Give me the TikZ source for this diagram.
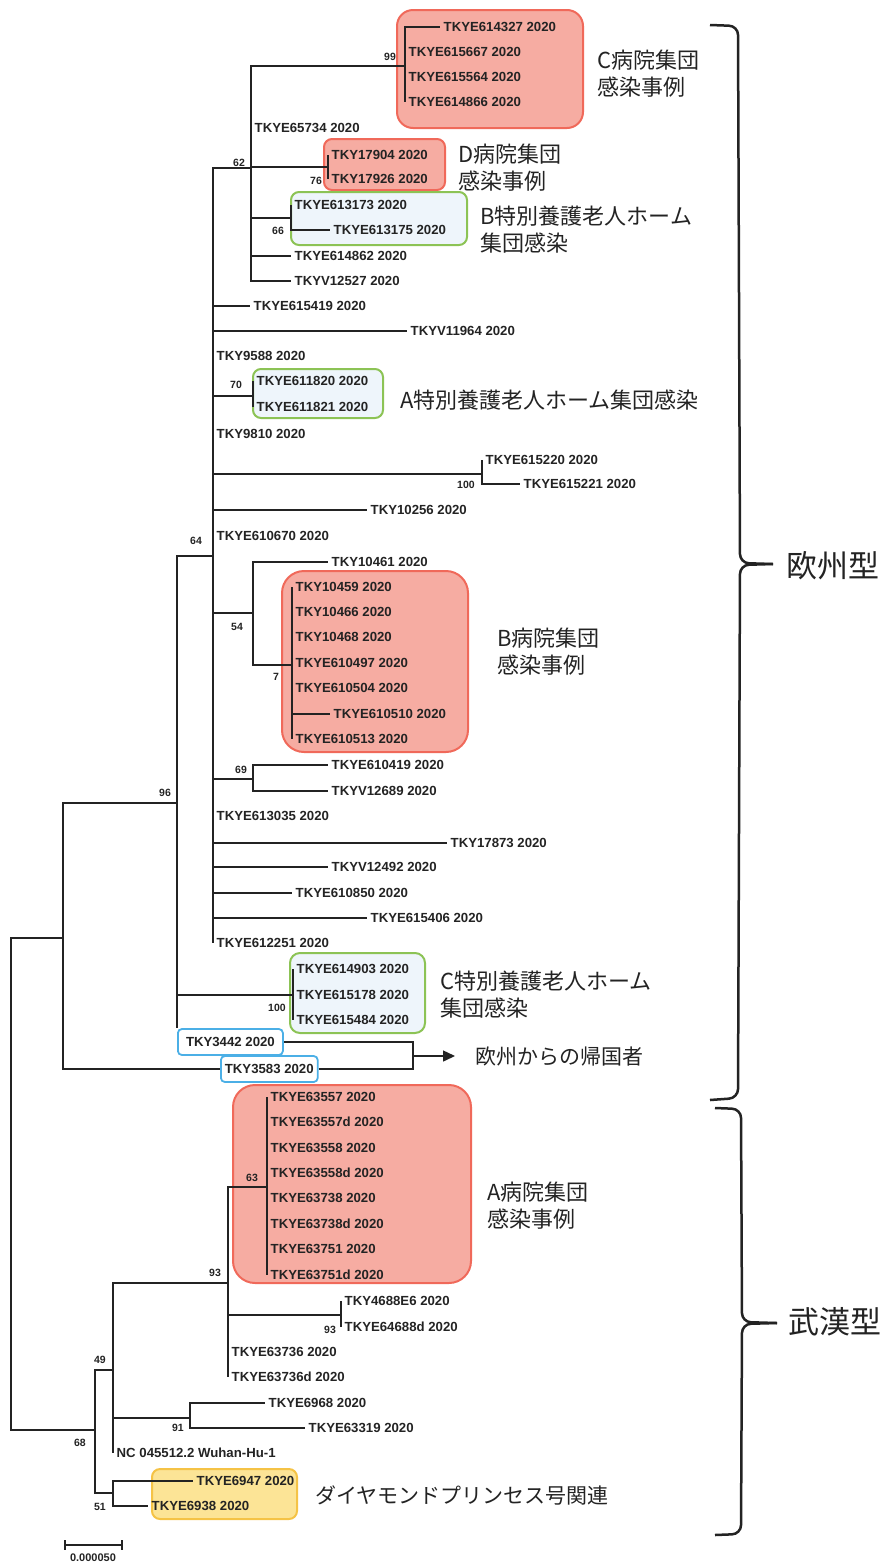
\documentclass[tikz,border=0pt]{standalone}
\usepackage{fontspec}
\setmainfont{Liberation Sans}
\newfontfamily\jpf{Noto Sans CJK JP}
\usetikzlibrary{arrows.meta}
\definecolor{redline}{RGB}{240,105,90}
\definecolor{redfill}{RGB}{246,172,162}
\definecolor{grnline}{RGB}{140,195,85}
\definecolor{bluefill}{RGB}{238,245,251}
\definecolor{blueline}{RGB}{75,175,230}
\definecolor{yelfill}{RGB}{252,228,150}
\definecolor{yelline}{RGB}{245,195,70}
\definecolor{ink}{RGB}{35,35,35}
\newcommand\leaffont{\fontsize{13.2}{15}\selectfont\bfseries}
\newcommand\bsfont{\fontsize{10.5}{11}\selectfont\bfseries}
\newcommand\grpfont{\jpf\fontsize{22}{27}\selectfont}
\begin{document}
\begin{tikzpicture}[x=1pt,y=-1pt,
  leaf/.style={anchor=west,inner xsep=3.5pt,inner ysep=0pt,font=\leaffont,text=ink},
  bs/.style={font=\bsfont,inner sep=0pt,text=ink},
  br/.style={line width=1.5pt,draw=ink},
  redbox/.style={draw=redline,fill=redfill,line width=2pt},
  grnbox/.style={draw=grnline,fill=bluefill,line width=2pt},
  yelbox/.style={draw=yelline,fill=yelfill,line width=2pt},
  bluebox/.style={leaf,draw=blueline,line width=1.8pt,rounded corners=4pt,inner xsep=4pt,inner ysep=5pt,minimum height=26pt,fill=white},
  grp/.style={anchor=west,align=left,inner sep=0pt,font=\grpfont,text=ink},
  bracepath/.style={line width=2.5pt,draw=ink,rounded corners=9pt}]
\useasboundingbox (0,0) rectangle (885,1564);
% group boxes
\draw[redbox,rounded corners=16pt] (397,10) rectangle (583,128);
\draw[redbox,rounded corners=8pt] (324,139) rectangle (445,190);
\draw[grnbox,rounded corners=8pt] (291,192) rectangle (467,245);
\draw[grnbox,rounded corners=8pt] (253,369) rectangle (383,418);
\draw[redbox,rounded corners=22pt] (282,571) rectangle (468,752);
\draw[grnbox,rounded corners=10pt] (290,953) rectangle (425,1033);
\draw[redbox,rounded corners=22pt] (233,1085) rectangle (471,1283);
\draw[yelbox,rounded corners=8pt] (152,1469) rectangle (297,1519);
% internal nodes
\coordinate (root) at (11,1184);
\coordinate (nEU) at (63,938);
\coordinate (n96) at (177,803);
\coordinate (n64) at (213,556);
\coordinate (n62) at (251,168);
\coordinate (n99) at (405,66);
\coordinate (n76) at (328,167);
\coordinate (n66) at (291,218);
\coordinate (n70) at (253,396);
\coordinate (n100a) at (482,474);
\coordinate (n54) at (253,613);
\coordinate (n71) at (292,665);
\coordinate (n69) at (253,779);
\coordinate (n100c) at (293,995);
\coordinate (n68) at (95,1430);
\coordinate (n49) at (113,1370);
\coordinate (n93) at (228,1283);
\coordinate (n63) at (267,1187);
\coordinate (n93b) at (341,1315);
\coordinate (n91) at (190,1418);
\coordinate (n51) at (113,1493);
% leaves
\node[leaf] (c1) at (440,27) {TKYE614327 2020};
\node[leaf] (c2) at (405,52) {TKYE615667 2020};
\node[leaf] (c3) at (405,77) {TKYE615564 2020};
\node[leaf] (c4) at (405,102) {TKYE614866 2020};
\node[leaf] (e65734) at (251,128) {TKYE65734 2020};
\node[leaf] (d1) at (328,155) {TKY17904 2020};
\node[leaf] (d2) at (328,179) {TKY17926 2020};
\node[leaf] (b1) at (291,205) {TKYE613173 2020};
\node[leaf] (b2) at (330,230) {TKYE613175 2020};
\node[leaf] (e614862) at (291,256) {TKYE614862 2020};
\node[leaf] (v12527) at (291,281) {TKYV12527 2020};
\node[leaf] (e615419) at (250,306) {TKYE615419 2020};
\node[leaf] (v11964) at (407,331) {TKYV11964 2020};
\node[leaf] (k9588) at (213,356) {TKY9588 2020};
\node[leaf] (a1) at (253,381) {TKYE611820 2020};
\node[leaf] (a2) at (253,407) {TKYE611821 2020};
\node[leaf] (k9810) at (213,434) {TKY9810 2020};
\node[leaf] (f1) at (482,460) {TKYE615220 2020};
\node[leaf] (f2) at (520,484) {TKYE615221 2020};
\node[leaf] (k10256) at (367,510) {TKY10256 2020};
\node[leaf] (e610670) at (213,536) {TKYE610670 2020};
\node[leaf] (k10461) at (328,562) {TKY10461 2020};
\node[leaf] (h1) at (292,587) {TKY10459 2020};
\node[leaf] (h2) at (292,612) {TKY10466 2020};
\node[leaf] (h3) at (292,637) {TKY10468 2020};
\node[leaf] (h4) at (292,663) {TKYE610497 2020};
\node[leaf] (h5) at (292,688) {TKYE610504 2020};
\node[leaf] (h6) at (330,714) {TKYE610510 2020};
\node[leaf] (h7) at (292,739) {TKYE610513 2020};
\node[leaf] (g1) at (328,765) {TKYE610419 2020};
\node[leaf] (g2) at (328,791) {TKYV12689 2020};
\node[leaf] (e613035) at (213,816) {TKYE613035 2020};
\node[leaf] (k17873) at (447,843) {TKY17873 2020};
\node[leaf] (v12492) at (328,867) {TKYV12492 2020};
\node[leaf] (e610850) at (292,893) {TKYE610850 2020};
\node[leaf] (e615406) at (367,918) {TKYE615406 2020};
\node[leaf] (e612251) at (213,943) {TKYE612251 2020};
\node[leaf] (m1) at (293,969) {TKYE614903 2020};
\node[leaf] (m2) at (293,995) {TKYE615178 2020};
\node[leaf] (m3) at (293,1020) {TKYE615484 2020};
\node[bluebox,minimum width=105pt] (t3442) at (177,1042) {TKY3442 2020};
\node[bluebox,minimum width=94pt] (t3583) at (220,1069) {TKY3583 2020};
\node[leaf] (w1) at (267,1097) {TKYE63557 2020};
\node[leaf] (w2) at (267,1122) {TKYE63557d 2020};
\node[leaf] (w3) at (267,1148) {TKYE63558 2020};
\node[leaf] (w4) at (267,1173) {TKYE63558d 2020};
\node[leaf] (w5) at (267,1198) {TKYE63738 2020};
\node[leaf] (w6) at (267,1224) {TKYE63738d 2020};
\node[leaf] (w7) at (267,1249) {TKYE63751 2020};
\node[leaf] (w8) at (267,1275) {TKYE63751d 2020};
\node[leaf] (p1) at (341,1301) {TKY4688E6 2020};
\node[leaf] (p2) at (341,1327) {TKYE64688d 2020};
\node[leaf] (q1) at (228,1352) {TKYE63736 2020};
\node[leaf] (q2) at (228,1377) {TKYE63736d 2020};
\node[leaf] (r1) at (265,1403) {TKYE6968 2020};
\node[leaf] (r2) at (305,1428) {TKYE63319 2020};
\node[leaf] (nc) at (113,1453) {NC 045512.2 Wuhan-Hu-1};
\node[leaf] (s1) at (193,1481) {TKYE6947 2020};
\node[leaf] (s2) at (148,1506) {TKYE6938 2020};
% branches
\foreach \c in {c1,c2,c3,c4} \draw[br] (n99) |- (\c.west);
\foreach \c in {n99,e65734,n76,n66,e614862,v12527} \draw[br] (n62) |- (\c);
\foreach \c in {d1,d2} \draw[br] (n76) |- (\c.west);
\foreach \c in {b1,b2} \draw[br] (n66) |- (\c.west);
\foreach \c in {n62,n70,n100a,n54,n69} \draw[br] (n64) |- (\c);
\foreach \c in {e615419,v11964,k9588,k9810,k10256,e610670,e613035,k17873,v12492,e610850,e615406,e612251} \draw[br] (n64) |- (\c.west);
\foreach \c in {a1,a2} \draw[br] (n70) |- (\c.west);
\foreach \c in {f1,f2} \draw[br] (n100a) |- (\c.west);
\draw[br] (n54) |- (k10461.west);
\draw[br] (n54) |- (n71);
\foreach \c in {h1,h2,h3,h4,h5,h6,h7} \draw[br] (n71) |- (\c.west);
\foreach \c in {g1,g2} \draw[br] (n69) |- (\c.west);
\draw[br] (n96) |- (n64);
\draw[br] (n96) |- (n100c);
\draw[br] (n96) -- (n96 |- t3442.north);
\foreach \c in {m1,m2,m3} \draw[br] (n100c) |- (\c.west);
\draw[br] (nEU) |- (n96);
\draw[br] (nEU) |- (t3583.west);
\draw[br] (root) |- (nEU);
\draw[br] (root) |- (n68);
\draw[br] (n68) |- (n49);
\draw[br] (n68) |- (n51);
\draw[br] (n49) |- (n93);
\draw[br] (n49) |- (n91);
\draw[br] (n49) |- (nc.west);
\draw[br] (n93) |- (n63);
\draw[br] (n93) |- (n93b);
\foreach \c in {q1,q2} \draw[br] (n93) |- (\c.west);
\foreach \c in {w1,w2,w3,w4,w5,w6,w7,w8} \draw[br] (n63) |- (\c.west);
\foreach \c in {p1,p2} \draw[br] (n93b) |- (\c.west);
\foreach \c in {r1,r2} \draw[br] (n91) |- (\c.west);
\foreach \c in {s1,s2} \draw[br] (n51) |- (\c.west);
% returnees
\coordinate (jn) at (413,1056);
\node[grp,font=\jpf\fontsize{21}{25}\selectfont] (eu) at (475,1056) {欧州からの帰国者};
\draw[br] (t3442.east) -| (jn);
\draw[br] (t3583.east) -| (jn);
\draw[br,-{Triangle[length=12pt,width=11pt]},shorten >=20pt] (jn) -- (jn -| eu.west);
% bootstrap values
\node[bs] (b99) at (390,57) {99};
\node[bs] (b62) at (239,163) {62};
\node[bs] (b76) at (316,181) {76};
\node[bs] (b66) at (278,231) {66};
\node[bs] (b70) at (236,385) {70};
\node[bs] (b100a) at (466,485) {100};
\node[bs] (b64) at (196,541) {64};
\node[bs] (b54) at (237,627) {54};
\node[bs] (b71) at (276,677) {7};
\node[bs] (b69) at (241,770) {69};
\node[bs] (b96) at (165,793) {96};
\node[bs] (b100c) at (277,1008) {100};
\node[bs] (b63) at (252,1178) {63};
\node[bs] (b93) at (215,1273) {93};
\node[bs] (b93b) at (330,1330) {93};
\node[bs] (b49) at (100,1360) {49};
\node[bs] (b91) at (178,1428) {91};
\node[bs] (b68) at (80,1443) {68};
\node[bs] (b51) at (100,1507) {51};
% group labels
\node[grp] (gC) at (597,74) {C病院集団\\感染事例};
\node[grp] (gD) at (458,168) {D病院集団\\感染事例};
\node[grp] (gBn) at (480,230) {B特別養護老人ホーム\\集団感染};
\node[grp] (gAn) at (400,400) {A特別養護老人ホーム集団感染};
\node[grp] (gB) at (497,652) {B病院集団\\感染事例};
\node[grp] (gCn) at (440,995) {C特別養護老人ホーム\\集団感染};
\node[grp] (gA) at (487,1206) {A病院集団\\感染事例};
\node[grp,font=\jpf\fontsize{21}{25}\selectfont] (gDP) at (315,1495) {ダイヤモンドプリンセス号関連};
% braces and types
\draw[bracepath] (710,25) -- (738,26) -- (740,563) -- (773,564);
\draw[bracepath] (773,564) -- (740,565) -- (738,1098) -- (710,1100);
\draw[bracepath] (715,1108) -- (741,1109) -- (742,1322) -- (777,1323);
\draw[bracepath] (777,1323) -- (742,1324) -- (741,1534) -- (715,1535);
\node[grp,font=\jpf\fontsize{31}{34}\selectfont] (tEU) at (786,566) {欧州型};
\node[grp,font=\jpf\fontsize{31}{34}\selectfont] (tWH) at (788,1322) {武漢型};
% scale bar
\draw[br] (65,1545) -- (122,1545);
\draw[br] (65,1540) -- (65,1550);
\draw[br] (122,1540) -- (122,1550);
\node[bs,font=\fontsize{11}{12}\selectfont\bfseries] (scl) at (93,1558) {0.000050};
\end{tikzpicture}
\end{document}
